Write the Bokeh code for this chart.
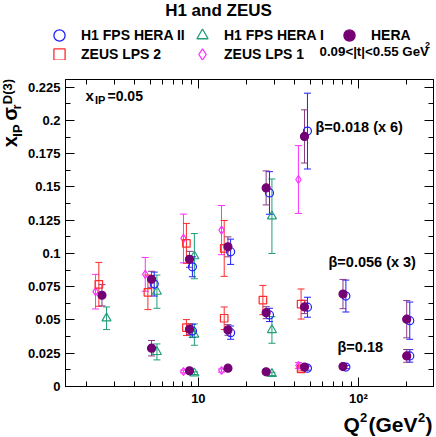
import math
from bokeh.plotting import figure
from bokeh.layouts import column, row
from bokeh.models import (Range1d, FixedTicker, LogAxis, LinearAxis, Label, Whisker, TeeHead,
                          ColumnDataSource, Legend, LegendItem, PrintfTickFormatter)
from bokeh.embed import file_html
from bokeh.resources import INLINE

# ---------------- data ----------------
# HERA combined (filled purple circles); three beta groups one after the other
hera_q2 = [2.5, 5.1, 8.8, 15.3, 26.5, 46.0,
           5.1, 8.8, 15.3, 26.5, 46.0, 80.0, 200.0,
           8.8, 15.3, 26.5, 46.0, 80.0, 200.0]
hera_val = [0.0686, 0.0806, 0.0956, 0.1050, 0.1493, 0.1880,
            0.0288, 0.0430, 0.0425, 0.0555, 0.0598, 0.0695, 0.0506,
            0.0118, 0.0138, 0.0110, 0.0146, 0.0150, 0.0230]
hera_err = [0.0080, 0.0060, 0.0060, 0.0075, 0.0128, 0.0200,
            0.0058, 0.0040, 0.0040, 0.0045, 0.0050, 0.0110, 0.0140,
            0.0010, 0.0012, 0.0015, 0.0015, 0.0012, 0.0048]

# H1 FPS HERA II (open blue circles)
h1fps2_q2 = [5.3, 9.18, 15.9, 27.8, 48.0,
             9.18, 15.9, 27.8, 48.0, 83.4, 209.0,
             48.0, 83.4, 209.0]
h1fps2_val = [0.0770, 0.0900, 0.1013, 0.1455, 0.1920,
              0.0418, 0.0405, 0.0538, 0.0596, 0.0680, 0.0495,
              0.0138, 0.0146, 0.0230]
h1fps2_err = [0.0090, 0.0075, 0.0095, 0.0160, 0.0285,
              0.0050, 0.0050, 0.0050, 0.0075, 0.0120, 0.0140,
              0.0015, 0.0012, 0.0047]

# H1 FPS HERA I (open green triangles)
h1fps1_q2 = [2.67, 5.51, 9.44, 28.8,
             5.51, 9.44, 28.8,
             9.44, 28.8]
h1fps1_val = [0.0513, 0.0713, 0.0980, 0.1280,
              0.0260, 0.0390, 0.0425,
              0.0100, 0.0095]
h1fps1_err = [0.0085, 0.0125, 0.0170, 0.0280,
              0.0060, 0.0080, 0.0100,
              0.0010, 0.0012]

# ZEUS LPS 2 (open red squares)
zlps2_q2 = [2.39, 4.84, 8.42, 14.5,
            8.42, 14.5, 25.3, 43.8,
            43.8]
zlps2_val = [0.0768, 0.0708, 0.1076, 0.1038,
             0.0443, 0.0513, 0.0650, 0.0620,
             0.0132]
zlps2_err = [0.0165, 0.0130, 0.0150, 0.0210,
             0.0060, 0.0085, 0.0110, 0.0113,
             0.0015]

# ZEUS LPS 1 (open magenta diamonds)
zlps1_q2 = [2.28, 4.66, 8.07, 13.95, 42.15,
            8.07, 13.95, 42.15]
zlps1_val = [0.0713, 0.0843, 0.1113, 0.1176, 0.1556,
             0.0113, 0.0120, 0.0158]
zlps1_err = [0.0130, 0.0127, 0.0183, 0.0185, 0.0255,
             0.0010, 0.0012, 0.0022]

# axis ticks
x_major = [10, 100]
x_minor = [2, 3, 4, 5, 6, 7, 8, 9, 20, 30, 40, 50, 60, 70, 80, 90, 200]
x_labels = {10: "10", 100: "10²"}
y_major = [0, 0.025, 0.05, 0.075, 0.1, 0.125, 0.15, 0.175, 0.2, 0.225]
y_minor = [0.0125, 0.0375, 0.0625, 0.0875, 0.1125, 0.1375, 0.1625, 0.1875, 0.2125]

# ---------------- layout geometry (window pixels) ----------------
FONT = "Liberation Sans"
WIN_W, WIN_H = 436, 437
HH = 60          # header strip (title + legend)
FH = 28          # footer strip (x title)
WL = 24          # left strip (y title)
MW = WIN_W - WL
MH = WIN_H - HH - FH
FL, FR, FT, FB = 63, 433, 79, 386   # plot frame edges
KB = 0.32        # baseline correction (fraction of font size)

C_BLUE = "#1f1fff"
C_GREEN = "#1f9e78"
C_PURPLE = "#740074"
C_RED = "#ff2a2a"
C_MAG = "#ff30ff"


def bare(width, height, x0, x1, y0, y1):
    f = figure(width=width, height=height, x_range=Range1d(x0, x1), y_range=Range1d(y1, y0),
               x_axis_location=None, y_axis_location=None, min_border=0, title=None,
               output_backend="svg", toolbar_location=None)
    f.grid.visible = False
    f.outline_line_color = None
    f.background_fill_color = "white"
    return f


def tlabel(fig, text, x, y, size, angle=0.0, align="left", units="data"):
    fig.add_layout(Label(x=x, y=y, x_units=units, y_units=units,
                         text=text, text_font=FONT, text_font_style="bold",
                         text_font_size=f"{size}px", text_color="black",
                         angle=angle, text_align=align, text_baseline="alphabetic"))


def wlabel(fig, text, wx, wy, size, align="left"):
    # horizontal text, baseline at window (wx, wy) in a bare strip
    tlabel(fig, text, wx, wy - KB * size, size, align=align)


def vlabel(fig, text, wx, wy, size):
    # text rotated 90 degrees, baseline at window x = wx, starting at window y = wy
    tlabel(fig, text, wx - KB * size, wy, size, angle=math.pi / 2)


# ---------------- main plot ----------------
p = figure(width=MW, height=MH, x_axis_type="log",
           x_range=Range1d(1.48, 294), y_range=Range1d(0, 0.2308),
           output_backend="svg", toolbar_location=None,
           min_border_left=FL - WL, min_border_right=WL + MW - FR,
           min_border_top=FT - HH, min_border_bottom=HH + MH - FB)
p.grid.visible = False
p.outline_line_color = "black"
p.background_fill_color = "white"


def style_axis(ax, labels=True):
    ax.axis_line_color = "black"
    ax.axis_line_width = 1
    ax.major_tick_in = 9
    ax.major_tick_out = 0
    ax.minor_tick_in = 5
    ax.minor_tick_out = 0
    ax.major_tick_line_color = "black"
    ax.minor_tick_line_color = "black"
    ax.major_label_text_font = FONT
    ax.major_label_text_font_style = "bold"
    ax.major_label_text_font_size = "13px"
    ax.major_label_text_color = "black"
    if not labels:
        ax.major_label_text_font_size = "1px"
        ax.major_label_text_alpha = 0
        ax.major_label_standoff = 0


xt = FixedTicker(ticks=x_major, minor_ticks=x_minor)
yt = FixedTicker(ticks=y_major, minor_ticks=y_minor)

p.xaxis.ticker = xt
p.xaxis.major_label_overrides = x_labels
style_axis(p.xaxis[0])
p.xaxis.major_label_standoff = 4
p.yaxis.ticker = yt
p.yaxis.formatter = PrintfTickFormatter(format="%g")
style_axis(p.yaxis[0])
p.yaxis.major_label_standoff = 5

top = LogAxis(ticker=xt)
style_axis(top, labels=False)
p.add_layout(top, "above")
right = LinearAxis(ticker=yt)
style_axis(right, labels=False)
p.add_layout(right, "right")


def add_series(q2, val, err, marker, color, size, fill, bar_color):
    src = ColumnDataSource(dict(x=q2, y=val,
                                lo=[v - e for v, e in zip(val, err)],
                                hi=[v + e for v, e in zip(val, err)]))
    w = Whisker(source=src, base="x", upper="hi", lower="lo", dimension="height",
                line_color=bar_color, line_width=1,
                upper_head=TeeHead(size=7, line_color=bar_color, line_width=1),
                lower_head=TeeHead(size=7, line_color=bar_color, line_width=1))
    p.add_layout(w)
    p.scatter("x", "y", source=src, marker=marker, size=size,
              line_color=color, fill_color=fill, line_width=1.2)


add_series(zlps1_q2, zlps1_val, zlps1_err, "diamond", C_MAG, 8, None, C_MAG)
add_series(zlps2_q2, zlps2_val, zlps2_err, "square", C_RED, 7.5, None, C_RED)
add_series(h1fps1_q2, h1fps1_val, h1fps1_err, "triangle", C_GREEN, 9, None, C_GREEN)
add_series(h1fps2_q2, h1fps2_val, h1fps2_err, "circle", C_BLUE, 8, None, C_BLUE)
add_series(hera_q2, hera_val, hera_err, "circle", C_PURPLE, 8, C_PURPLE, "#8a3a8a")


# in-frame texts (screen units relative to the frame)
def in_frame(text, wx, wy, size):
    tlabel(p, text, wx - FL, FB - (wy - KB * size), size, units="screen")


in_frame("x", 83, 100, 15)
in_frame("IP", 92.5, 103.5, 11)
in_frame("=0.05", 105, 100, 14)
in_frame("β=0.018 (x 6)", 313, 131, 14.5)
in_frame("β=0.056 (x 3)", 326, 266, 14.5)
in_frame("β=0.18", 335, 351, 14.5)

# ---------------- header: title + legend ----------------
hdr = bare(WIN_W, HH, 0, WIN_W, 0, HH)
wlabel(hdr, "H1 and ZEUS", 218, 15, 17, align="center")
wlabel(hdr, "0.09<|t|<0.55 GeV", 319, 55, 13.3)
wlabel(hdr, "2", 424.5, 47, 9)

NAN = [float("nan")]
LEG_DY = 5
leg_entries = [
    ("H1 FPS HERA II", "circle", C_BLUE, None, 59, 29.5),
    ("H1 FPS HERA I", "triangle", C_GREEN, None, 202, 29.5),
    ("HERA", "circle", C_PURPLE, C_PURPLE, 349, 29.5),
    ("ZEUS LPS 2", "square", C_RED, None, 59, 48.5),
    ("ZEUS LPS 1", "diamond", C_MAG, None, 202, 48.5),
]
GB = 28
for text_, mk, col, fill, cx, cy in leg_entries:
    rend = hdr.scatter(x=NAN, y=NAN, marker=mk, size=10, line_color=col,
                       fill_color=fill, line_width=1.3)
    lg = Legend(items=[LegendItem(label=text_, renderers=[rend])],
                location=(cx - GB / 2, HH - (cy + LEG_DY + GB / 2)),
                glyph_width=GB, glyph_height=GB, label_height=GB, label_standoff=8,
                padding=0, margin=0, spacing=0,
                border_line_alpha=0, background_fill_alpha=0,
                label_text_font=FONT, label_text_font_style="bold",
                label_text_font_size="14px", label_text_color="black")
    hdr.add_layout(lg)

# ---------------- left strip: y title ----------------
lft = bare(WL, MH, 0, WL, HH, HH + MH)
vlabel(lft, "x", 16, 137, 20)
vlabel(lft, "IP", 21, 125, 13)
vlabel(lft, "σ", 16, 107, 20)
vlabel(lft, "r", 20, 94, 13)
vlabel(lft, "D(3)", 11, 88, 13)

# ---------------- footer: x title ----------------
ftr = bare(WIN_W, FH, 0, WIN_W, WIN_H - FH, WIN_H)
wlabel(ftr, "Q", 343, 431, 21)
wlabel(ftr, "2", 359.5, 421, 13)
wlabel(ftr, "(GeV", 368, 431, 21)
wlabel(ftr, "2", 417.5, 421, 13)
wlabel(ftr, ")", 425, 431, 21)

layout = column(hdr, row(lft, p), ftr)
open("out.html", "w").write(file_html(layout, INLINE))
